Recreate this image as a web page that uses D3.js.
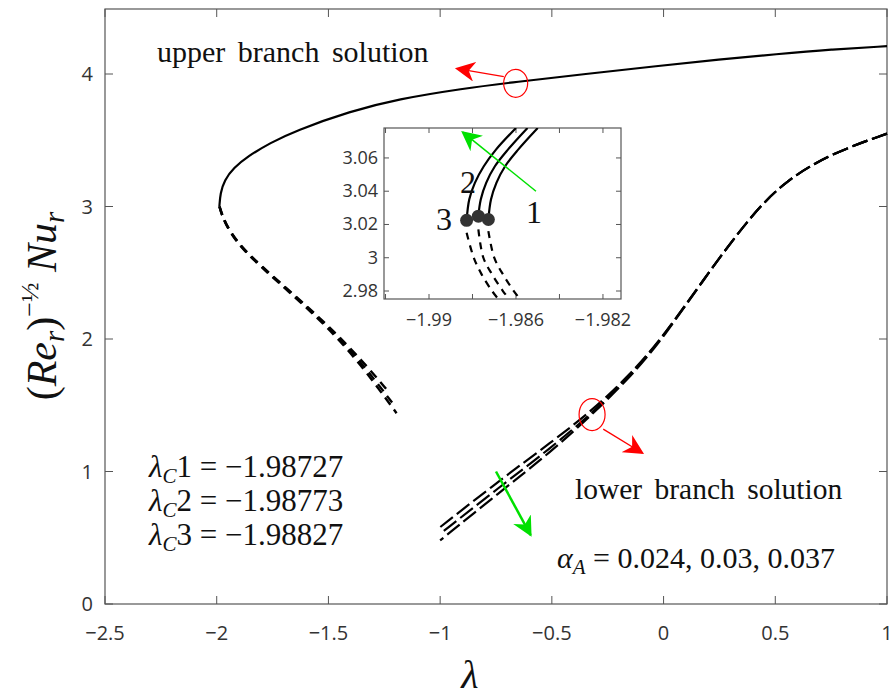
<!DOCTYPE html>
<html><head><meta charset="utf-8">
<script src="https://cdn.jsdelivr.net/npm/d3@7"></script>
<style>body{margin:0;background:#fff}svg{display:block}</style>
</head><body>
<script>
// main axes
const xTicks = [-2.5, -2, -1.5, -1, -0.5, 0, 0.5, 1];
const yTicks = [0, 1, 2, 3, 4];

// upper branch (solid), shared by all three alpha values at this scale
const upperSolid = [[-1.988,3.0],[-1.984,3.1],[-1.965,3.2],[-1.925,3.29],[-1.86,3.38],[-1.76,3.48],[-1.651,3.57],[-1.40,3.72],[-1.19,3.81],[-0.90,3.89],[-0.662,3.94],[-0.35,4.0],[-0.027,4.06],[0.25,4.11],[0.506,4.15],[0.75,4.185],[1.0,4.21]];
// upper branch, dashed continuation (three alpha values)
const upperDash1 = [[-1.987,3.0],[-1.965,2.88],[-1.90,2.71],[-1.80,2.55],[-1.651,2.33],[-1.50,2.10],[-1.35,1.84],[-1.23,1.60]];
const upperDash2 = [[-1.988,3.0],[-1.966,2.88],[-1.902,2.71],[-1.803,2.55],[-1.655,2.33],[-1.505,2.10],[-1.355,1.83],[-1.215,1.52]];
const upperDash3 = [[-1.988,3.0],[-1.967,2.88],[-1.904,2.71],[-1.806,2.55],[-1.659,2.33],[-1.51,2.10],[-1.36,1.82],[-1.195,1.44]];
// lower branch (dashed, three alpha values)
const lower1 = [[-1.0,0.58],[-0.736,0.93],[-0.503,1.22],[-0.32,1.46],[-0.15,1.73],[0.0,2.02],[0.2,2.5],[0.4,2.95],[0.55,3.2],[0.75,3.4],[1.0,3.55]];
const lower2 = [[-1.0,0.53],[-0.736,0.88],[-0.503,1.18],[-0.32,1.44],[-0.15,1.72],[0.0,2.02],[0.2,2.5],[0.4,2.95],[0.55,3.2],[0.75,3.4],[1.0,3.55]];
const lower3 = [[-1.0,0.48],[-0.736,0.84],[-0.503,1.15],[-0.32,1.43],[-0.15,1.71],[0.0,2.01],[0.2,2.5],[0.4,2.95],[0.55,3.2],[0.75,3.4],[1.0,3.55]];

// inset
const insetXTicks = [-1.992, -1.99, -1.988, -1.986, -1.984, -1.982];
const insetXLabels = [-1.99, -1.986, -1.982];
const insetYTicks = [2.98, 3, 3.02, 3.04, 3.06];
const criticalX = [-1.98727, -1.98773, -1.98827];
const criticalY = [3.023, 3.025, 3.0225];
const criticalLabel = ["1", "2", "3"];
const inSolid1 = [[-1.98727,3.023],[-1.98715,3.035],[-1.9869,3.045],[-1.9865,3.055],[-1.9859,3.065],[-1.9850,3.078]];
const inSolid2 = [[-1.98773,3.025],[-1.98762,3.035],[-1.98737,3.045],[-1.98697,3.055],[-1.98637,3.065],[-1.98547,3.078]];
const inSolid3 = [[-1.98827,3.0225],[-1.98815,3.035],[-1.98789,3.045],[-1.98748,3.055],[-1.98692,3.065],[-1.98600,3.078]];
const inDash1 = [[-1.98727,3.016],[-1.9870,3.0],[-1.9866,2.99],[-1.9861,2.98],[-1.9858,2.975]];
const inDash2 = [[-1.98773,3.017],[-1.9875,3.0],[-1.9871,2.99],[-1.9866,2.98],[-1.9863,2.975]];
const inDash3 = [[-1.98827,3.015],[-1.98794,3.0],[-1.98758,2.99],[-1.9871,2.98],[-1.9868,2.975]];

const W = 892, H = 699;
const svg = d3.select("body").append("svg").attr("width", W).attr("height", H);
const defs = svg.append("defs");
[["red","#ff0000"],["green","#00e000"]].forEach(([id,c]) => {
  defs.append("marker").attr("id","ah-"+id).attr("viewBox","0 0 10 10").attr("refX",9).attr("refY",5)
    .attr("markerWidth",20).attr("markerHeight",20).attr("orient","auto-start-reverse").attr("markerUnits","userSpaceOnUse")
    .append("path").attr("d","M0,0 L10,5 L0,10 L3,5 Z").attr("fill",c);
});

const x = d3.scaleLinear().domain([-2.5, 1]).range([105, 887]);
const y = d3.scaleLinear().domain([0, 4]).range([604, 74]);
const boxTop = 9;
const axCol = "#555";
const tickFont = "'Open Sans', 'DejaVu Sans', sans-serif";
const serif = "'Liberation Serif', 'DejaVu Serif', serif";

svg.append("rect").attr("x",105).attr("y",boxTop).attr("width",887-105).attr("height",604-boxTop)
  .attr("fill","none").attr("stroke",axCol).attr("stroke-width",1.2);
const g = svg.append("g");
xTicks.forEach(t => {
  g.append("line").attr("x1",x(t)).attr("x2",x(t)).attr("y1",604).attr("y2",596).attr("stroke",axCol);
  g.append("line").attr("x1",x(t)).attr("x2",x(t)).attr("y1",boxTop).attr("y2",boxTop+8).attr("stroke",axCol);
  g.append("text").attr("x",x(t)).attr("y",640).attr("text-anchor","middle").attr("font-family",tickFont)
    .attr("font-size",20).attr("fill","#333").text(t < 0 ? "\u2212" + Math.abs(t) : t);
});
yTicks.forEach(t => {
  g.append("line").attr("x1",105).attr("x2",113).attr("y1",y(t)).attr("y2",y(t)).attr("stroke",axCol);
  g.append("line").attr("x1",887).attr("x2",879).attr("y1",y(t)).attr("y2",y(t)).attr("stroke",axCol);
  g.append("text").attr("x",93).attr("y",y(t)+7).attr("text-anchor","end").attr("font-family",tickFont)
    .attr("font-size",20).attr("fill","#333").text(t);
});

const line = d3.line().x(d => x(d[0])).y(d => y(d[1])).curve(d3.curveBasis);
svg.append("path").attr("d", line(upperSolid)).attr("fill","none").attr("stroke","#000").attr("stroke-width",2.2);
[upperDash1, upperDash2, upperDash3].forEach(s =>
  svg.append("path").attr("d", line(s)).attr("fill","none").attr("stroke","#000").attr("stroke-width",2.4).attr("stroke-dasharray","9,6"));
// drawn from the common right end so the dashes line up where the curves merge
[lower1, lower2, lower3].forEach(s =>
  svg.append("path").attr("d", line(s.slice().reverse())).attr("fill","none").attr("stroke","#000").attr("stroke-width",2.2).attr("stroke-dasharray","16,5"));

// annotations
function ellipse(cx, cy, rx, ry) {
  svg.append("ellipse").attr("cx",x(cx)).attr("cy",y(cy)).attr("rx",rx).attr("ry",ry)
    .attr("fill","none").attr("stroke","#ff0000").attr("stroke-width",1.2);
}
function arrow(sc, p0, p1, col, sw) {
  const [fx, fy] = sc;
  svg.append("line").attr("x1",fx(p0[0])).attr("y1",fy(p0[1])).attr("x2",fx(p1[0])).attr("y2",fy(p1[1]))
    .attr("stroke",col==="red"?"#ff0000":"#00e000").attr("stroke-width",sw).attr("marker-end","url(#ah-"+col+")");
}
ellipse(-0.662, 3.93, 12, 14);
arrow([x,y], [-0.715, 3.98], [-0.925, 4.04], "red", 1.3);
ellipse(-0.32, 1.43, 13, 16);
arrow([x,y], [-0.27, 1.32], [-0.095, 1.14], "red", 1.3);
arrow([x,y], [-0.75, 1.0], [-0.595, 0.52], "green", 2.5);

const text = (tx, ty, s, size, anchor) => svg.append("text").attr("x",tx).attr("y",ty)
  .attr("font-family",serif).attr("font-size",size).attr("text-anchor",anchor||"start").attr("fill","#111").text(s);
text(157, 62, "upper branch solution", 30).attr("word-spacing",5);
text(575, 499, "lower branch solution", 29.5).attr("word-spacing",5);
const al = text(557, 568, "", 30);
al.append("tspan").attr("font-style","italic").text("\u03b1");
al.append("tspan").attr("font-style","italic").attr("font-size",21).attr("dy",6).text("A");
al.append("tspan").attr("dy",-6).text(" = 0.024, 0.03, 0.037");
criticalX.forEach((v, i) => {
  const t = text(149, 477 + 34*i, "", 31);
  t.append("tspan").attr("font-style","italic").text("\u03bb");
  t.append("tspan").attr("font-style","italic").attr("font-size",21).attr("dy",6).text("C");
  t.append("tspan").attr("dy",-6).text(criticalLabel[i] + " = \u2212" + Math.abs(v).toFixed(5));
});

// axis titles
text(470, 688, "\u03bb", 40, "middle").attr("font-style","italic");
const yl = svg.append("text").attr("transform","translate(56,306) rotate(-90)").attr("text-anchor","middle")
  .attr("font-family",serif).attr("font-size",42).attr("fill","#111");
yl.append("tspan").text("(");
yl.append("tspan").attr("font-style","italic").text("Re");
yl.append("tspan").attr("font-style","italic").attr("font-size",29).attr("dy",8).text("r");
yl.append("tspan").attr("dy",-8).text(")");
yl.append("tspan").attr("font-size",26).attr("dy",-18).text("\u2212\u00bd");
yl.append("tspan").attr("font-style","italic").attr("dy",18).text(" Nu");
yl.append("tspan").attr("font-style","italic").attr("font-size",29).attr("dy",8).text("r");

// inset
const ix = d3.scaleLinear().domain([-1.99207, -1.98117]).range([384, 621]);
const iy = d3.scaleLinear().domain([2.9752, 3.078]).range([299, 128]);
svg.append("rect").attr("x",384).attr("y",128).attr("width",621-384).attr("height",299-128)
  .attr("fill","#fff").attr("stroke",axCol).attr("stroke-width",1.2);
insetXTicks.forEach(t => {
  svg.append("line").attr("x1",ix(t)).attr("x2",ix(t)).attr("y1",299).attr("y2",294).attr("stroke",axCol);
  svg.append("line").attr("x1",ix(t)).attr("x2",ix(t)).attr("y1",128).attr("y2",133).attr("stroke",axCol);
});
insetXLabels.forEach(t => svg.append("text").attr("x",ix(t)).attr("y",326).attr("text-anchor","middle")
  .attr("font-family",tickFont).attr("font-size",18).attr("fill","#333").text("\u2212" + Math.abs(t)));
insetYTicks.forEach(t => {
  svg.append("line").attr("x1",384).attr("x2",389).attr("y1",iy(t)).attr("y2",iy(t)).attr("stroke",axCol);
  svg.append("line").attr("x1",621).attr("x2",616).attr("y1",iy(t)).attr("y2",iy(t)).attr("stroke",axCol);
  svg.append("text").attr("x",378).attr("y",iy(t)+6).attr("text-anchor","end")
    .attr("font-family",tickFont).attr("font-size",18).attr("fill","#333").text(t);
});
const iline = d3.line().x(d => ix(d[0])).y(d => iy(d[1])).curve(d3.curveCatmullRom);
defs.append("clipPath").attr("id","inclip").append("rect").attr("x",384).attr("y",128).attr("width",237).attr("height",171);
const ig = svg.append("g").attr("clip-path","url(#inclip)");
[inSolid1, inSolid2, inSolid3].forEach(s =>
  ig.append("path").attr("d", iline(s)).attr("fill","none").attr("stroke","#000").attr("stroke-width",2.2));
[inDash1, inDash2, inDash3].forEach(s =>
  ig.append("path").attr("d", iline(s)).attr("fill","none").attr("stroke","#000").attr("stroke-width",2.2).attr("stroke-dasharray","7,6"));
criticalX.forEach((v, i) => ig.append("circle").attr("cx",ix(v)).attr("cy",iy(criticalY[i])).attr("r",6.5).attr("fill","#333"));
arrow([ix,iy], [-1.98508, 3.040], [-1.98845, 3.0755], "green", 1.5);
text(534, 223, "1", 32, "middle");
text(468, 193, "2", 32, "middle");
text(444, 230, "3", 32, "middle");
</script>
</body></html>
